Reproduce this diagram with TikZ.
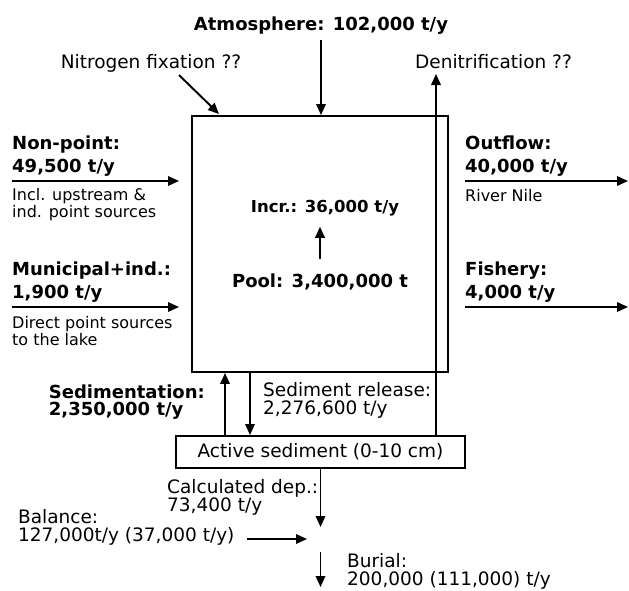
\documentclass[tikz,border=0pt]{standalone}
\usepackage{fontspec}
\setmainfont{DejaVu Sans}
\usepackage{tikz}
\usetikzlibrary{positioning}
\usetikzlibrary{arrows.meta}
\tikzstyle{flow} = [draw,line width=1.9pt,-{Triangle[length=11pt,width=9.5pt]}]
\tikzstyle{poolbox} = [rectangle,draw,line width=1.9pt,inner sep=0pt]
\tikzstyle{head} = [font=\fontsize{18}{23}\selectfont\bfseries,align=left,inner sep=0pt]
\tikzstyle{txt} = [font=\fontsize{18.5}{18}\selectfont,align=left,inner sep=0pt]
\tikzstyle{note} = [font=\fontsize{16}{17}\selectfont,align=left,inner sep=0pt]

\begin{document}
\begin{tikzpicture}[x=1pt,y=-1pt]
  \useasboundingbox (0,0) rectangle (629,590);

  % the lake and the active sediment
  \node[poolbox,minimum width=256pt,minimum height=256pt] (lake) at (320,244) {};
  \node[poolbox,txt,minimum width=289pt,minimum height=32pt] (sed) at (320.5,452) {Active sediment (0-10 cm)};

  % inputs from the left, outputs to the right
  \foreach \x/\y/\name/\label in {12/172/nonpt/{Non-point:\\49,500 t/y}, 12/298/munic/{Municipal+ind.:\\1,900 t/y}, 465/172/outfl/{Outflow:\\40,000 t/y}, 465/298/fish/{Fishery:\\4,000 t/y}}
          \node[head,anchor=base west] (\name) at (\x,\y) {\label};

  \foreach \y/\name/\label in {217/nonpt/{Incl. upstream \&\\ind. point sources}, 345/munic/{Direct point sources\\to the lake}}
          \node[note,anchor=base west] (\name-note) at (12,\y) {\label};
  \node[note,anchor=base west] (outfl-note) at (465,201) {River Nile};

  \coordinate (nonpt-end) at (179,181);
  \coordinate (munic-end) at (179,307);
  \coordinate (outfl-end) at (628,181);
  \coordinate (fish-end) at (628,307);
  \foreach \name in {nonpt,munic}
         \draw[flow] (\name.west |- \name-end) -- (\name-end);
  \foreach \name in {outfl,fish}
         \draw[flow] (\name.west |- \name-end) -- (\name-end);

  % top
  \node[head,anchor=base] (atm) at (321,30) {Atmosphere: 102,000 t/y};
  \draw[flow] ([yshift=-6pt]atm.south) -- (atm.south |- lake.north);

  \node[txt,anchor=base] (nfix) at (151,68) {Nitrogen fixation ??};
  \coordinate (nfix-end) at (219,114);
  \draw[flow] ([xshift=28pt,yshift=-3pt]nfix.south) -- (nfix-end);

  \node[txt,anchor=base west] (denit) at (415,68) {Denitrification ??};
  \coordinate (denit-end) at (436,74);
  \draw[flow] (sed.north -| denit-end) -- (denit-end);

  % pool
  \node[head,font=\fontsize{16.5}{18}\selectfont\bfseries,anchor=base] (incr) at (325,212) {Incr.: 36,000 t/y};
  \node[head,anchor=base] (pool) at (320,287) {Pool: 3,400,000 t};
  \draw[flow,shorten <=14pt,shorten >=11pt] (pool.north) -- (pool.north |- incr.south);

  % exchange with the sediment
  \node[head,font=\fontsize{18}{17}\selectfont\bfseries,anchor=base east] (sedim) at (205,415) {Sedimentation:\\2,350,000 t/y};
  \node[txt,anchor=base west] (release) at (263,414) {Sediment release:\\2,276,600 t/y};
  \draw[flow] (sed.north -| 225,0) -- (lake.south -| 225,0);
  \draw[flow] (lake.south -| 250,0) -- (sed.north -| 250,0);

  % below the sediment
  \node[txt,anchor=base west] (calc) at (167,511) {Calculated dep.:\\73,400 t/y};
  \coordinate (dep) at (320.5,527);
  \draw[flow] (sed.south) -- (dep);

  \node[txt,anchor=base west] (bal) at (18,541) {Balance:\\127,000t/y (37,000 t/y)};
  \coordinate (bal-end) at (307,539);
  \draw[flow] ([xshift=12pt]bal.east |- bal-end) -- (bal-end);

  \coordinate (bur-top) at (320.5,552);
  \coordinate (bur-end) at (320.5,587);
  \draw[flow] (bur-top) -- (bur-end);
  \node[txt,anchor=base west] (burial) at (347,585) {Burial:\\200,000 (111,000) t/y};

\end{tikzpicture}
\end{document}
